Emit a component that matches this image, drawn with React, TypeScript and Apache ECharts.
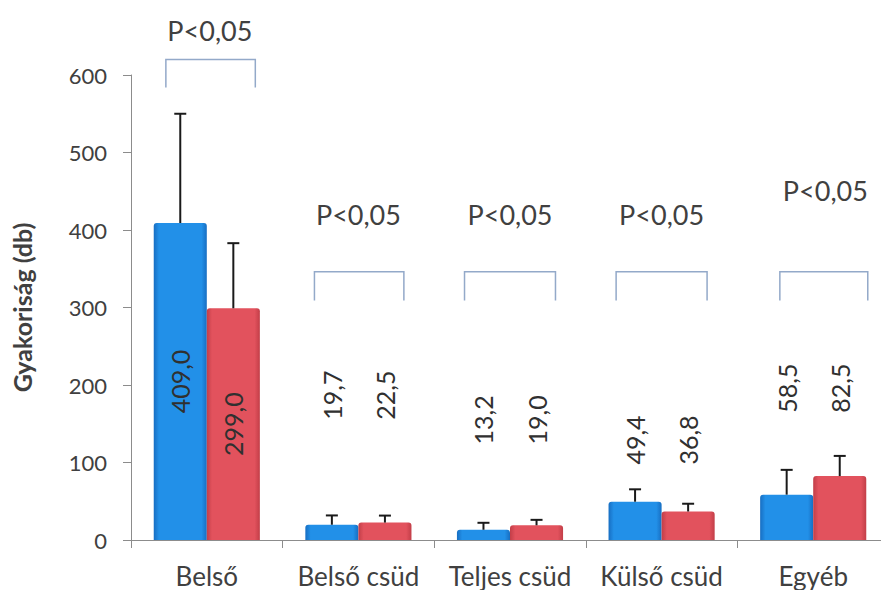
import React, { useEffect, useRef } from "react";
import * as echarts from "echarts";

// Categories and values
const categories = ["Belső", "Belső csüd", "Teljes csüd", "Külső csüd", "Egyéb"];
const blueValues = [409.0, 19.7, 13.2, 49.4, 58.5];
const redValues = [299.0, 22.5, 19.0, 36.8, 82.5];
// Standard deviations (upper whiskers)
const blueErrors = [141, 12, 9, 16, 32];
const redErrors = [84, 9, 7, 10, 26];
// Significance text per category
const pTexts = ["P<0,05", "P<0,05", "P<0,05", "P<0,05", "P<0,05"];
// Y axis ticks
const yMin = 0;
const yMax = 600;
const yStep = 100;

// Layout of annotations (value units / band fractions)
const bracketTop = [620, 346, 346, 346, 346];
const bracketEnd = [584, 309, 309, 309, 309];
const bracketLeft = [-0.27, -0.29, -0.3, -0.3, -0.22];
const bracketRight = [0.32, 0.3, 0.3, 0.3, 0.36];
const pTextLevel = [657, 420, 420, 420, 451];
const pTextShift = [0.02, 0, 0, 0, 0.08];
// Centre height of rotated value labels (null = middle of the bar)
const labelLevel: (number | null)[] = [null, 187, 155, 129, 196];

const FONT = "Lato, 'Open Sans', sans-serif";
const TEXT = "#404040";
const AXIS = "#8c8c8c";
const BRACKET = "#93a9c9";

const fmt = (v: number) => v.toFixed(1).replace(".", ",");

function barGradient(edge: string, mid: string) {
  return new echarts.graphic.LinearGradient(0, 0, 1, 0, [
    { offset: 0, color: edge },
    { offset: 0.1, color: mid },
    { offset: 0.9, color: mid },
    { offset: 1, color: edge },
  ]);
}

function errorSeries(values: number[], errs: number[], offset: number) {
  return {
    type: "custom",
    clip: false,
    z: 5,
    data: values.map((v, i) => [i, v, v + errs[i]]),
    encode: { x: 0, y: [1, 2] },
    renderItem: (_p: any, api: any) => {
      const i = api.value(0);
      const base = api.coord([i, api.value(1)]);
      const top = api.coord([i, api.value(2)]);
      const band = api.size([1, 0])[0];
      const cx = base[0] + offset * band;
      return {
        type: "group",
        children: [
          {
            type: "line",
            shape: { x1: cx, y1: base[1], x2: cx, y2: top[1] },
            style: { stroke: "#1a1a1a", lineWidth: 2 },
          },
          {
            type: "line",
            shape: { x1: cx - 6, y1: top[1], x2: cx + 6, y2: top[1] },
            style: { stroke: "#1a1a1a", lineWidth: 2 },
          },
        ],
      };
    },
  };
}

function labelSeries(values: number[], offset: number) {
  return {
    type: "custom",
    clip: false,
    z: 6,
    data: values.map((v, i) => [i, v, labelLevel[i] ?? v / 2]),
    encode: { x: 0, y: 2 },
    renderItem: (_p: any, api: any) => {
      const i = api.value(0);
      const pt = api.coord([i, api.value(2)]);
      const band = api.size([1, 0])[0];
      return {
        type: "text",
        x: pt[0] + offset * band,
        y: pt[1],
        rotation: Math.PI / 2,
        style: {
          text: fmt(api.value(1)),
          align: "center",
          verticalAlign: "middle",
          fontFamily: FONT,
          fontSize: 25,
          fill: "#303030",
        },
      };
    },
  };
}

export default function App() {
  const ref = useRef<HTMLDivElement>(null);

  useEffect(() => {
    if (!ref.current) return;
    const chart = echarts.init(ref.current, undefined, { renderer: "svg" });

    const bracketData = categories.map((_, i) => [
      i,
      bracketTop[i],
      bracketEnd[i],
      pTextLevel[i],
    ]);

    chart.setOption({
      animation: false,
      backgroundColor: "#ffffff",
      grid: { left: 131, right: 0, top: 75, bottom: 58, containLabel: false },
      xAxis: {
        type: "category",
        data: categories,
        axisLine: { lineStyle: { color: AXIS, width: 1 } },
        axisTick: { show: true, length: 8, lineStyle: { color: AXIS } },
        axisLabel: {
          interval: 0,
          hideOverlap: false,
          color: TEXT,
          fontFamily: FONT,
          fontSize: 26,
          margin: 23,
        },
      },
      yAxis: {
        type: "value",
        min: yMin,
        max: yMax,
        interval: yStep,
        name: "Gyakoriság (db)",
        nameLocation: "middle",
        nameRotate: 90,
        nameGap: 97,
        nameTextStyle: {
          color: TEXT,
          fontFamily: FONT,
          fontSize: 25,
          fontWeight: "bold",
        },
        axisLine: { show: true, lineStyle: { color: AXIS, width: 1 } },
        axisTick: { show: true, length: 8, lineStyle: { color: AXIS } },
        splitLine: { show: false },
        axisLabel: {
          color: TEXT,
          fontFamily: FONT,
          fontSize: 22,
          margin: 24,
        },
      },
      series: [
        {
          type: "bar",
          data: blueValues,
          barGap: "0%",
          barCategoryGap: "30%",
          itemStyle: {
            color: barGradient("#176ec2", "#2290e8"),
            borderRadius: [3, 3, 0, 0],
          },
        },
        {
          type: "bar",
          data: redValues,
          itemStyle: {
            color: barGradient("#c23e48", "#e2525d"),
            borderRadius: [3, 3, 0, 0],
          },
        },
        errorSeries(blueValues, blueErrors, -0.175),
        errorSeries(redValues, redErrors, 0.175),
        labelSeries(blueValues, -0.175),
        labelSeries(redValues, 0.175),
        {
          type: "custom",
          clip: false,
          z: 4,
          data: bracketData,
          encode: { x: 0, y: [1, 2, 3] },
          renderItem: (_p: any, api: any) => {
            const i = api.value(0);
            const top = api.coord([i, api.value(1)]);
            const end = api.coord([i, api.value(2)]);
            const txt = api.coord([i, api.value(3)]);
            const band = api.size([1, 0])[0];
            const xl = top[0] + bracketLeft[i] * band;
            const xr = top[0] + bracketRight[i] * band;
            return {
              type: "group",
              children: [
                {
                  type: "polyline",
                  shape: {
                    points: [
                      [xl, end[1]],
                      [xl, top[1]],
                      [xr, top[1]],
                      [xr, end[1]],
                    ],
                  },
                  style: { stroke: BRACKET, lineWidth: 1.5, fill: "none" },
                },
                {
                  type: "text",
                  x: txt[0] + pTextShift[i] * band,
                  y: txt[1],
                  style: {
                    text: pTexts[i],
                    align: "center",
                    verticalAlign: "middle",
                    fontFamily: FONT,
                    fontSize: 27,
                    fill: TEXT,
                  },
                },
              ],
            };
          },
        },
      ],
    });

    return () => chart.dispose();
  }, []);

  return <div ref={ref} style={{ width: 889, height: 598, margin: -8 }} />;
}
